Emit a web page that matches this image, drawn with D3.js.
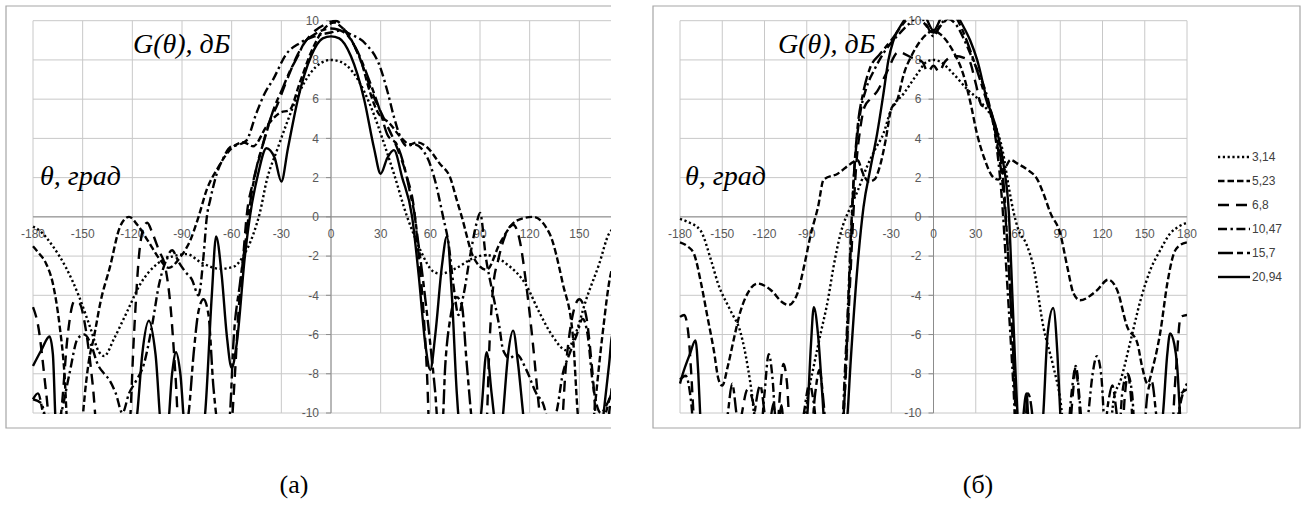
<!DOCTYPE html>
<html>
<head>
<meta charset="utf-8">
<script src="https://cdn.jsdelivr.net/npm/d3@7"></script>
<style>
  html, body { margin: 0; padding: 0; background: #fff; }
  svg { display: block; }
</style>
</head>
<body>
<svg id="fig" width="1307" height="505"></svg>
<script>
// Angle / gain ticks
const thetaTicks = [-180, -150, -120, -90, -60, -30, 0, 30, 60, 90, 120, 150, 180];
const gainTicks = [-10, -8, -6, -4, -2, 0, 2, 4, 6, 8, 10];
const seriesNames = ["3,14", "5,23", "6,8", "10,47", "15,7", "20,94"];

// ---- panel (а): [theta, G] ----
const a314 = [[-180,-0.5],[-176,-0.7],[-168,-1.5],[-160,-2.6],[-152,-4.1],[-146,-5.5],[-140,-6.9],[-137,-7.1],[-131,-6.2],[-123,-4.8],[-115,-3.4],[-105,-2.4],[-95,-2.0],[-87,-1.9],[-79,-2.3],[-67,-2.65],[-59,-2.55],[-53,-2.0],[-47,-0.9],[-43,0.2],[-38.7,1.9],[-32.6,3.4],[-26.6,4.8],[-20.5,6.1],[-12.7,7.3],[-6,7.85],[0,8.0],[6,7.9],[13,7.4],[20,6.4],[26,5.2],[31,4.0],[38,2.2],[46,0],[50,-0.9],[54,-1.7],[62,-2.8],[66,-2.9],[76,-2.6],[86,-2.1],[94,-1.95],[106,-2.4],[118,-3.5],[126,-4.9],[134,-6.1],[142,-6.8],[148,-5.9],[154,-4.25],[162,-2.4],[168,-0.85],[176,-0.3],[180,-0.2]];
const a523 = [[-180,-1.5],[-177,-1.8],[-172,-2.4],[-168,-3.4],[-164,-5.5],[-161,-8],[-159,-11],[-155,-12.5],[-151,-11],[-148,-8.5],[-146,-7.2],[-143.6,-6.3],[-139,-4.25],[-133.5,-2.55],[-127.4,-0.5],[-122,0],[-117,-0.4],[-110,-1.3],[-104,-2.1],[-98,-2.6],[-91,-2.05],[-85,-1.2],[-80,0],[-75,1.4],[-69,2.4],[-60,3.5],[-53,3.8],[-47,3.6],[-39,4.6],[-31,5.3],[-25,5.45],[-19,6.8],[-12,8.4],[-5,9.5],[2,9.9],[6,9.7],[10,9.35],[14.5,8.65],[18.7,7.8],[23,6.5],[27.8,5.4],[35.6,4.75],[41.7,4.1],[47.7,3.7],[52,3.8],[58,3.55],[65.8,2.7],[72,2.0],[76,0.85],[79,0],[86,-2.05],[94,-2.7],[102,-1.35],[112,-0.2],[122,0],[132,-0.85],[140,-3.4],[146,-6],[149,-10],[152,-12.5],[156,-12.5],[159,-10],[164,-6],[169,-2.9],[175,-1.8],[180,-1.5]];
const a68 = [[-180,-4.6],[-177,-5.5],[-172,-9],[-168,-12],[-163,-10],[-159,-6],[-155,-4.3],[-152,-4.4],[-148,-5.8],[-144,-8.5],[-140,-12],[-130,-12.5],[-122,-11],[-119,-6],[-116,-2],[-113,-0.5],[-111,-0.3],[-108,-0.8],[-104,-1.7],[-100,-2.6],[-97,-4.5],[-94,-8],[-91,-12],[-62,-12],[-58,-8],[-56,-5],[-53,-2],[-51,0],[-47,1.8],[-43,3.1],[-37,4.9],[-33,5.6],[-27,6.9],[-20,8.3],[-12,9.3],[-4,9.8],[3,10],[9.6,9.35],[14.5,8.65],[18.7,7.8],[25,6.3],[32,5.0],[40,3.5],[46,2.0],[50,0.5],[53,-2],[56,-5],[58,-8],[60,-12],[93,-12],[96,-6],[98,-3.5],[101,-2.2],[105,-1.0],[110,-0.4],[114,-1.2],[118,-3.5],[122,-6.5],[126,-10],[130,-12.5],[138,-12],[142,-7.5],[146,-5],[150,-4.2],[154,-5],[158,-8],[162,-12],[168,-10],[172,-6.5],[176,-5],[180,-4.6]];
const a1047 = [[-180,-9.3],[-175,-9.5],[-170,-11],[-163,-10],[-158,-8],[-153,-6.2],[-149,-6],[-145,-6.5],[-141,-7.5],[-137,-8],[-134,-8.3],[-130,-9],[-126,-10],[-122,-9],[-118,-8.4],[-113,-7.5],[-108,-5.5],[-104,-3.5],[-100,-2.3],[-96,-1.7],[-92,-2.3],[-88,-2.8],[-84,-3.2],[-80,-4.0],[-77,-2],[-75,0],[-73,0.85],[-69,2.2],[-65,3.0],[-61,3.55],[-55,3.7],[-51,3.9],[-45,5.3],[-40,6.3],[-35,7.0],[-27,8.3],[-19,8.85],[-10,9.2],[0,9.4],[6,9.5],[12,9.3],[20.5,8.85],[29.6,7.65],[34.4,6.3],[38,5.1],[42.8,3.9],[46,3.6],[50,3.7],[58,3.05],[63,1.8],[67.7,0],[71,-1.35],[74,-3.5],[77,-5],[80,-4],[84,-2],[88,-0.3],[90,0.2],[93.6,-2.1],[97.7,-3.9],[101.7,-5.6],[104,-6.8],[108,-7.2],[112,-7.0],[118,-7.8],[124,-9],[128,-9.5],[132,-10.5],[136,-10],[140,-8],[144,-7],[148.5,-6],[152,-5.2],[155,-6],[158,-8.4],[163,-10],[167,-9.5],[170,-9],[180,-9.3]];
const a157 = [[-180,-9.3],[-177,-9],[-174,-10],[-170,-12],[-92,-12],[-86,-10],[-83,-7],[-80,-4.8],[-77,-4.2],[-74,-5],[-71,-8.7],[-67,-11],[-63,-11],[-61,-10],[-59,-6.5],[-55,-3.4],[-51,-0.85],[-49,0.6],[-45,2.5],[-40,4.0],[-35,5.4],[-29,6.6],[-25,7.4],[-20,8.2],[-16,8.9],[-11,9.25],[0,9.6],[8,9.4],[15,8.6],[22,7.2],[30,5.3],[34,4.2],[40,3.65],[43.5,2.8],[47.7,1.25],[50.7,0],[52,-0.85],[56,-3.5],[60,-6.5],[63,-9],[65,-11],[67,-11],[69,-7.6],[72,-5.2],[76,-4.1],[79,-4.5],[82,-7.5],[86,-11],[90,-12],[160,-12],[166,-10],[170,-9],[180,-9.3]];
const a2094 = [[-180,-7.6],[-175,-6.8],[-170,-6.1],[-168,-7],[-166,-11],[-160,-13],[-120,-12],[-117,-10],[-114,-7],[-110,-5.3],[-106,-7],[-102,-11],[-99,-11],[-96,-8],[-93.6,-6.9],[-91,-8],[-88,-11],[-80,-12],[-76,-10],[-72,-4],[-69.4,-1.0],[-66,-3],[-63,-6],[-60,-7.7],[-57,-6.5],[-52,-2],[-49,0],[-44,2.2],[-39,3.5],[-34,3.0],[-30,1.8],[-26,3.5],[-20,6.0],[-12,8.2],[-5,9.1],[0,9.2],[5,9.1],[12,8.2],[20,6.0],[26,3.5],[30,2.2],[34,3.0],[38,3.4],[43,2.0],[49,0],[53,-3],[57,-6.5],[60,-7.8],[63,-6],[67,-2.5],[70,-1.0],[73,-4],[76,-9],[78,-11],[85,-12],[90.7,-10],[94,-6.9],[97,-9],[99.7,-11],[102,-12],[104,-10],[107,-7],[110,-5.8],[113,-7.5],[116,-10],[118.5,-12],[160,-12.5],[164,-10.5],[166,-9],[168,-7.5],[170,-6],[180,-7]];

// ---- panel (б): [theta, G] ----
const b314 = [[-180,-0.1],[-174.7,-0.25],[-165.4,-0.7],[-158,-2.2],[-153,-3.4],[-144,-4.8],[-137,-5.9],[-132,-7.6],[-128.5,-9.3],[-126,-11],[-110,-13],[-92,-11],[-89.5,-9.3],[-85,-7.6],[-80,-5.9],[-75,-4.25],[-71,-2.55],[-66,-0.85],[-59,0.5],[-54,1.3],[-47,2.6],[-41,3.5],[-35.5,4.25],[-30.5,5.4],[-21,6.3],[-11.4,7.3],[-5,7.9],[0,8.0],[5,7.9],[14,7.3],[24,6.5],[33,5.9],[43,4.8],[49,3.4],[53.5,1.5],[57,0.2],[60,-0.6],[66,-1.4],[71,-2.55],[78,-5.6],[85,-7.6],[90,-9.3],[93,-11],[110,-13],[125,-11],[128,-9.3],[133,-8.3],[140,-6.3],[147,-4.25],[154,-2.7],[161,-1.7],[168,-0.85],[174,-0.5],[180,-0.3]];
const b523 = [[-180,-1.3],[-174.7,-1.5],[-170,-1.9],[-165,-3.4],[-160.5,-5.1],[-156,-6.8],[-152.6,-8.3],[-150,-8.6],[-146,-7.6],[-142,-6.3],[-137,-4.8],[-132,-3.9],[-125,-3.4],[-116,-3.7],[-106.5,-4.4],[-103,-4.5],[-96.6,-3.9],[-92,-2.55],[-87,-0.85],[-82,0.5],[-78,1.9],[-68,2.2],[-59,2.7],[-54,2.9],[-50,2.2],[-46,1.8],[-42,1.9],[-38,2.6],[-34,3.9],[-30,5.5],[-26,5.9],[-21,7.3],[-15,8.3],[-10,8.9],[-5,9.3],[0,9.5],[5,9.3],[10,8.9],[15,8.3],[21,7.3],[26,5.9],[31,4.2],[36,3.0],[42.6,2.0],[46,1.9],[51,2.5],[54.7,2.9],[60,2.7],[66.7,2.4],[73.8,1.9],[78,1.2],[83,0.2],[90,-0.85],[95,-2.55],[99.4,-3.9],[104,-4.25],[116,-3.75],[124,-3.2],[130.5,-3.75],[137.5,-5.6],[144.8,-6.45],[148,-7.6],[152,-8.5],[156,-7.6],[161,-5.9],[166,-3.4],[170.5,-1.9],[174,-1.5],[180,-1.3]];
const b68 = [[-180,-5.1],[-177,-5],[-174,-6],[-172,-8],[-170,-10.5],[-167,-12],[-140,-12],[-136,-10],[-132,-8.8],[-128,-9.5],[-125,-12],[-112,-12],[-109,-9],[-106.5,-7.5],[-104,-8.5],[-101,-12],[-66,-12],[-63,-9],[-61,-6],[-59,-3],[-57,0],[-55,2.5],[-52,4.5],[-49,5.6],[-45,6.0],[-40,6.4],[-33,7.4],[-25,8.4],[-15,8.1],[-8,7.9],[-4,7.4],[0,7.7],[4,7.4],[8,7.9],[15,8.2],[25,8.0],[30,6.8],[34,5.7],[40,5.5],[45,3.8],[50,1.0],[53,-2],[56,-6],[58,-9],[60,-12],[95,-12],[99,-9],[101,-7.6],[103,-9],[106,-12],[133,-12],[136,-9],[138,-8],[140,-9],[143,-12],[168,-12],[172,-8],[175.5,-5.1],[180,-5]];
const b1047 = [[-180,-8.3],[-176,-8.1],[-172,-9.5],[-169,-12],[-124,-12],[-120,-9],[-117,-7],[-114,-8.5],[-111,-12],[-96,-12],[-92,-10],[-88,-8.5],[-85,-9.5],[-81,-12],[-66,-12],[-63,-8],[-61,-5],[-59,-1.5],[-57,1.5],[-55,3.5],[-52,5.3],[-48,6.5],[-42,7.5],[-35,8.4],[-26,9.2],[-18,9.8],[-10,10.2],[-5,9.8],[0,9.2],[5,9.8],[10,10.1],[17,9.7],[22,9.0],[28,8.0],[34,7.0],[40,5.6],[45,3.5],[49,0.5],[52,-3],[55,-6.5],[57,-9],[59,-12],[94,-12],[98,-9],[101,-7.6],[104,-9.5],[107,-12],[110,-10],[113,-8],[116,-7.1],[119,-8],[123,-12],[131,-12],[134,-9],[137.7,-8.0],[141,-9],[144,-12],[170,-12],[174,-10],[178,-8.8],[180,-8.5]];
const b157 = [[-180,-10.5],[-177,-10.8],[-170,-12],[-150,-12],[-146,-10],[-143,-8.5],[-140,-10],[-137,-12],[-130,-12],[-127,-10],[-123,-8.6],[-120,-10],[-117,-12],[-88,-12],[-84,-9],[-81,-7.8],[-78,-9.5],[-75,-12],[-66,-12],[-63,-9],[-61,-5.5],[-59,-2],[-57,1.5],[-54,4.5],[-50,6.3],[-45,7.6],[-38,8.3],[-30,9.0],[-22,9.8],[-14,10.3],[-7,9.9],[0,9.4],[7,9.9],[14,10.3],[20,9.6],[27,8.3],[33,7.0],[39,5.6],[45,4.0],[50,1.5],[53,-2],[56,-6],[58,-9.5],[60,-12],[64,-12],[67,-9],[70,-10],[72,-12],[120,-12],[124,-9.5],[127,-8.6],[130,-10],[133,-12],[148,-12],[152,-9],[155,-8.4],[158,-10],[161,-12],[172,-12],[176,-9],[180,-8.8]];
const b2094 = [[-180,-8.5],[-178,-8],[-173,-7],[-169,-6.3],[-167,-8],[-165.4,-10.5],[-163,-13],[-120,-12],[-116,-10.5],[-113.6,-9.5],[-111,-11],[-108,-9.6],[-105,-12],[-92,-12],[-89.5,-10],[-87,-6.5],[-85,-4.6],[-82,-6],[-79,-9],[-77,-11],[-65,-12],[-61,-10],[-59,-7.6],[-54,-2.55],[-49.7,0.5],[-44.7,2.5],[-40,4.25],[-35.5,6.3],[-32,8.0],[-28.4,9.0],[-21,10],[-14,10.8],[-7,10.4],[0,9.5],[7,10.4],[13,10.8],[19,10],[26,9],[31,8.0],[38,5.95],[45.5,4.25],[50,2.55],[53.5,0.2],[56,-4],[58,-7.5],[60,-10.5],[62,-12],[64,-10],[66,-9],[68,-11],[76,-12],[78,-10],[81,-6],[85,-4.65],[88,-7],[90,-10],[92,-12],[160,-12],[163,-10],[166,-7],[168,-5.95],[171,-6.5],[173,-7.6],[175,-10],[177,-12],[180,-12]];

const panelA = [a314, a523, a68, a1047, a157, a2094];
const panelB = [b314, b523, b68, b1047, b157, b2094];

// stroke patterns per series, in legend order
const dashes = ["2.2,2.6", "6.5,3", "11,7", "9,3.5,2.4,3.5", "15,4,6,4", null];

const svg = d3.select("#fig");
const yScale = d3.scaleLinear().domain([-10, 10]).range([413, 20.7]);

function drawPanel(opt) {
  const g = svg.append("g");
  const x = d3.scaleLinear().domain([-180, 180]).range([opt.left, opt.right]);
  const visRight = opt.visRight;

  // outer chart frame
  const frame = g.append("path")
    .attr("fill", "none").attr("stroke", "#a6a6a6").attr("stroke-width", 1.2);
  if (opt.closed) {
    frame.attr("d", `M${opt.fx0},${opt.fy0}H${opt.fx1}V${opt.fy1}H${opt.fx0}Z`);
  } else {
    frame.attr("d", `M${opt.fx1},${opt.fy0}H${opt.fx0}V${opt.fy1}H${opt.fx1}`);
  }

  // grid
  const grid = g.append("g").attr("stroke", "#c8c8c8").attr("stroke-width", 1);
  grid.selectAll("line.h").data(gainTicks).join("line")
    .attr("x1", opt.left).attr("x2", visRight)
    .attr("y1", d => yScale(d)).attr("y2", d => yScale(d));
  grid.selectAll("line.v").data(thetaTicks.filter(t => x(t) <= visRight + 0.5)).join("line")
    .attr("x1", d => x(d)).attr("x2", d => x(d))
    .attr("y1", yScale(10)).attr("y2", yScale(-10));

  // axes through the origin
  const ax = g.append("g").attr("stroke", "#8c8c8c").attr("stroke-width", 1);
  ax.append("line").attr("x1", x(0)).attr("x2", x(0)).attr("y1", yScale(10)).attr("y2", yScale(-10));
  ax.append("line").attr("x1", opt.left).attr("x2", visRight).attr("y1", yScale(0)).attr("y2", yScale(0));
  ax.selectAll("line.t").data(gainTicks).join("line")
    .attr("x1", x(0) - 5).attr("x2", x(0))
    .attr("y1", d => yScale(d)).attr("y2", d => yScale(d));

  // tick labels
  const lab = g.append("g").attr("fill", "#595959")
    .style("font-family", "'Liberation Sans', Arial, sans-serif").style("font-size", "12px");
  lab.selectAll("text.y").data(gainTicks).join("text")
    .attr("x", x(0) - 12).attr("y", d => yScale(d) + 4.3)
    .attr("text-anchor", "end").text(d => d);
  lab.selectAll("text.x").data(thetaTicks.filter(t => x(t) <= visRight)).join("text")
    .attr("x", d => x(d)).attr("y", yScale(0) + 21.5)
    .attr("text-anchor", "middle").text(d => d);

  // axis titles
  const tt = g.append("g").style("font-family", "'Liberation Serif', 'Times New Roman', serif")
    .style("font-style", "italic").style("font-size", "28px").attr("fill", "#000");
  tt.append("text").attr("x", opt.gx).attr("y", 53).text("G(θ), дБ");
  tt.append("text").attr("x", opt.tx).attr("y", 185).text("θ, град");

  // curves
  const clipId = "clip" + opt.id;
  svg.append("clipPath").attr("id", clipId).append("rect")
    .attr("x", opt.left - 1).attr("y", yScale(10) - 1)
    .attr("width", visRight - opt.left + 1).attr("height", yScale(-10) - yScale(10) + 2);
  const line = d3.line().x(d => x(d[0])).y(d => yScale(d[1])).curve(d3.curveMonotoneX);
  g.append("g").attr("clip-path", `url(#${clipId})`)
    .selectAll("path").data(opt.series).join("path")
    .attr("d", d => line(d))
    .attr("fill", "none").attr("stroke", "#000").attr("stroke-width", 2.4)
    .attr("stroke-dasharray", (d, i) => dashes[i]);
}

drawPanel({ id: "a", left: 33, right: 629, visRight: 611, fx0: 6, fy0: 6, fx1: 611, fy1: 428,
  closed: false, gx: 133, tx: 40, series: panelA });
drawPanel({ id: "b", left: 680, right: 1187, visRight: 1187, fx0: 653, fy0: 6, fx1: 1300, fy1: 428,
  closed: true, gx: 778, tx: 685, series: panelB });

// legend of panel (б)
const leg = svg.append("g");
const legY = d3.scaleLinear().domain([0, 5]).range([157, 277]);
const items = leg.selectAll("g").data(seriesNames).join("g")
  .attr("transform", (d, i) => `translate(0,${legY(i)})`);
items.append("line").attr("x1", 1218).attr("x2", 1250).attr("y1", 0).attr("y2", 0)
  .attr("stroke", "#000").attr("stroke-width", 2.4)
  .attr("stroke-dasharray", (d, i) => dashes[i]);
items.append("text").attr("x", 1252).attr("y", 4.3).text(d => d)
  .attr("fill", "#404040").style("font-family", "'Liberation Sans', Arial, sans-serif").style("font-size", "12px");

// sub-figure captions
const cap = svg.append("g").style("font-family", "'Liberation Serif', 'Times New Roman', serif")
  .style("font-size", "26px").attr("fill", "#000").attr("text-anchor", "middle");
cap.append("text").attr("x", 294).attr("y", 493).text("(а)");
cap.append("text").attr("x", 978).attr("y", 493).text("(б)");
</script>
</body>
</html>
